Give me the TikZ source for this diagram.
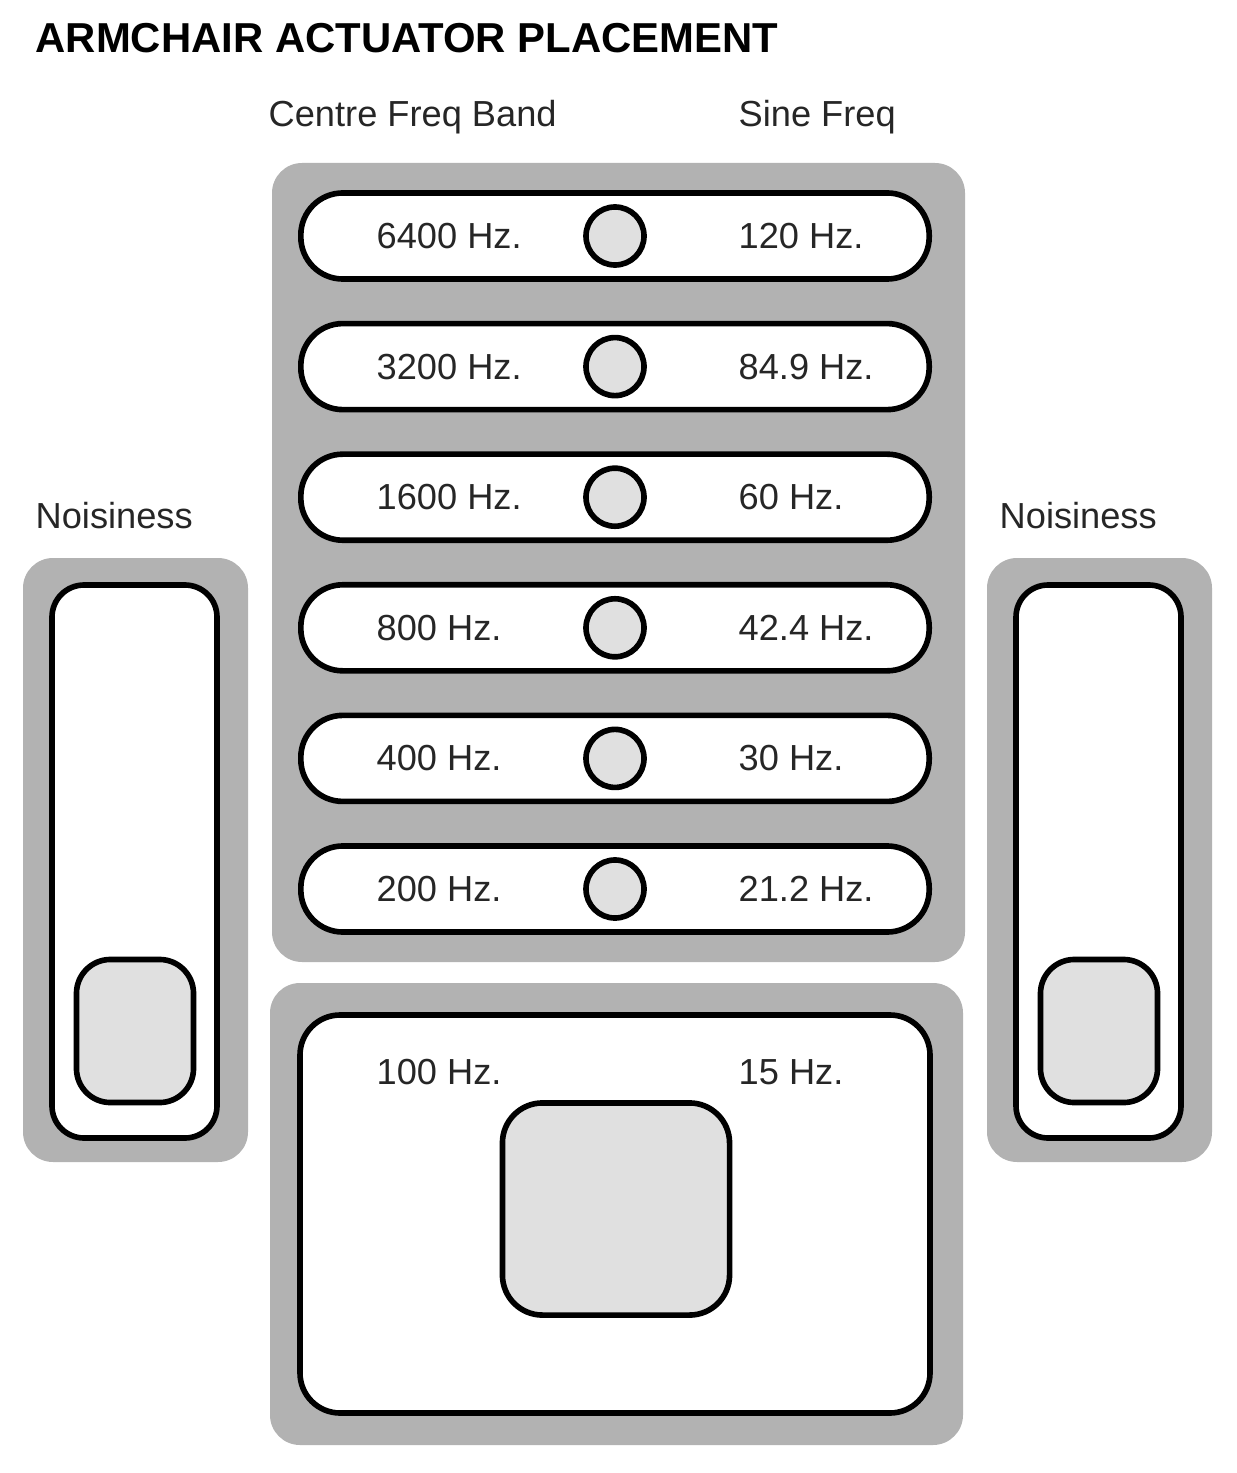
\documentclass[tikz,border=0pt]{standalone}
\usepackage{fontspec}
\setmainfont{Liberation Sans}
\tikzset{
  panel/.style={draw=none, fill=black!30, rounded corners=0.3cm},
  pill/.style={draw, line width=1.6pt, fill=white, rounded corners=0.42cm, minimum height=0.86cm, minimum width=6.28cm},
  knob/.style={circle, draw, line width=1.6pt, fill=black!12, minimum size=0.58cm, inner sep=0pt},
  pad/.style={draw, line width=1.6pt, fill=black!12, rounded corners=0.34cm, inner sep=0pt},
  lbl/.style={font=\fontsize{10.3}{12}\selectfont, text=black!85, inner sep=0pt},
}
\begin{document}
\begin{tikzpicture}[x=0.01cm,y=-0.01cm]
\useasboundingbox (0,0) rectangle (1236,1473);
\node[anchor=west, inner sep=0pt, font=\bfseries\fontsize{11.9}{14}\selectfont] (title) at (35,38) {ARMCHAIR ACTUATOR PLACEMENT};
\node[lbl, anchor=west] (bandhead) at (268,117) {Centre Freq Band};
\node[lbl, anchor=west] (sinehead) at (738,117) {Sine Freq};
% centre column
\draw[panel] (272,163) rectangle (965,962);
\foreach \band/\sine [count=\i] in {6400/120, 3200/84.9, 1600/60, 800/42.4, 400/30, 200/21.2} {
  \pgfmathsetmacro\yy{236+(\i-1)*130.6}
  \node[pill] (row\i) at (615,\yy) {};
  \node[knob] (knob\i) at (615,\yy) {};
  \node[lbl, anchor=west] (band\i) at (376,\yy) {\band\ Hz.};
  \node[lbl, anchor=west] (sine\i) at (738,\yy) {\sine\ Hz.};
}
% seat
\draw[panel] (270,983) rectangle (963,1445);
\draw[line width=1.6pt, fill=white, rounded corners=0.4cm] (300,1015) rectangle (930,1413);
\node[lbl, anchor=west] (band7) at (376,1072) {100 Hz.};
\node[lbl, anchor=west] (sine7) at (738,1072) {15 Hz.};
\node[pad, minimum width=2.27cm, minimum height=2.12cm, rounded corners=0.4cm] (seatpad) at (616,1209) {};
% arms
\foreach \side/\x in {left/23, right/987} {
  \node[lbl, anchor=west] (\side head) at (\x+12,516) {Noisiness};
  \draw[panel] (\x,558) rectangle (\x+225,1162);
  \draw[line width=1.6pt, fill=white, rounded corners=0.32cm] (\x+29,585) rectangle (\x+194,1138);
  \node[pad, minimum width=1.17cm, minimum height=1.43cm] (\side pad) at (\x+112,1031) {};
}
\end{tikzpicture}
\end{document}
